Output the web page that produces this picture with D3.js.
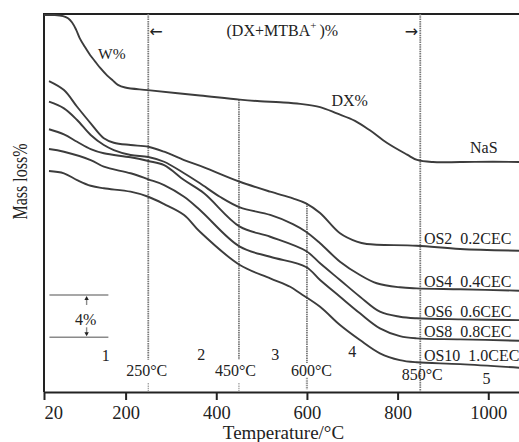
<!DOCTYPE html>
<html>
<head>
<meta charset="utf-8">
<script src="https://cdn.jsdelivr.net/npm/d3@7"></script>
<style>
  html, body { margin: 0; padding: 0; background: #fff; }
  svg { display: block; }
  text { font-family: "Liberation Serif", "Times New Roman", serif; fill: #222; }
</style>
</head>
<body>
<svg id="chart" width="519" height="442"></svg>
<script>
// ---- data: TG curves (temperature °C, relative mass %; curves are offset for display) ----
const tempTicks = [20, 200, 400, 600, 800, 1000];

const nasTemp = [20, 44, 62, 73, 82, 91, 99, 110, 122, 133, 144, 159, 172, 183, 199, 249, 364, 452, 497, 541, 585, 629, 666, 706, 739, 777, 821, 843, 878, 938, 1011, 1068];
const nasMass = [99.9, 99.9, 99.8, 99.6, 99.2, 98.5, 97.7, 96.9, 96.1, 95.5, 94.9, 94.2, 93.7, 93.3, 93.05, 92.8, 92.3, 91.9, 91.75, 91.65, 91.5, 91.2, 90.6, 89.9, 89.0, 87.8, 86.7, 86.2, 86.0, 86.0, 86.03, 86.0];

const os2Temp = [31, 64, 93, 123, 152, 174, 211, 250, 285, 329, 373, 452, 519, 569, 598, 629, 673, 710, 732, 842, 938, 1068];
const os2Mass = [93.66, 92.81, 91.23, 89.66, 88.25, 87.83, 87.61, 87.45, 86.98, 86.19, 85.50, 84.14, 83.20, 82.57, 82.10, 81.18, 79.26, 78.47, 78.25, 78.09, 77.78, 77.62];

const os4Temp = [31, 64, 93, 123, 152, 174, 211, 250, 285, 329, 364, 408, 452, 519, 569, 598, 629, 673, 717, 754, 805, 842, 938, 1068];
const os4Mass = [91.71, 91.08, 89.98, 88.56, 87.61, 87.14, 86.67, 86.48, 86.03, 84.94, 83.99, 82.72, 81.72, 81.0, 80.14, 79.41, 78.32, 76.58, 75.32, 74.54, 74.16, 74.06, 73.97, 73.84];

const os6Temp = [31, 64, 93, 123, 152, 211, 250, 285, 329, 373, 452, 519, 598, 629, 673, 717, 761, 805, 842, 938, 1068];
const os6Mass = [89.10, 88.62, 87.92, 87.23, 86.83, 86.45, 86.10, 85.72, 84.30, 83.05, 79.89, 78.94, 77.59, 76.43, 74.85, 73.27, 71.85, 71.38, 71.23, 71.13, 71.06];

const os8Temp = [31, 64, 123, 152, 211, 250, 285, 329, 364, 452, 519, 598, 629, 673, 717, 761, 805, 842, 938, 1068];
const os8Mass = [87.23, 86.98, 86.19, 85.56, 84.94, 84.37, 83.83, 82.72, 81.47, 78.0, 77.05, 76.08, 74.85, 73.27, 71.70, 70.28, 69.55, 69.33, 69.24, 69.11];

const os10Temp = [31, 64, 93, 123, 152, 211, 250, 285, 329, 364, 452, 519, 563, 585, 629, 673, 717, 761, 805, 842, 938, 1068];
const os10Mass = [85.15, 84.94, 84.30, 83.76, 83.52, 83.20, 82.72, 82.03, 81.0, 79.41, 76.27, 75.01, 74.21, 73.59, 72.32, 70.59, 69.17, 67.92, 67.28, 67.07, 66.90, 66.55];

const seriesNames = ["NaS", "OS2", "OS4", "OS6", "OS8", "OS10"];
const cecLabels = [null, "0.2CEC", "0.4CEC", "0.6CEC", "0.8CEC", "1.0CEC"];

// stage boundaries and stage numbers
const boundaryTemps = [250, 450, 600, 850];
const boundaryLabels = ["250°C", "450°C", "600°C", "850°C"];
const stageNames = ["1", "2", "3", "4", "5"];
const stageTemps = [156, 367, 530, 700, 996];

// ---- layout ----
const svg = d3.select("#chart");
const x = d3.scaleLinear().domain([20, 1070]).range([44, 520]);
const y = d3.scaleLinear().domain([100, 64.26]).range([14, 392]);

const series = seriesNames.map((name, i) => {
  const t = [nasTemp, os2Temp, os4Temp, os6Temp, os8Temp, os10Temp][i];
  const m = [nasMass, os2Mass, os4Mass, os6Mass, os8Mass, os10Mass][i];
  return { name, cec: cecLabels[i], points: t.map((d, j) => ({ t: d, m: m[j] })) };
});

// frame: left and top borders
svg.append("path")
  .attr("d", `M${x.range()[0]},${y.range()[1]}V${y.range()[0]}H${x.range()[1]}`)
  .attr("fill", "none").attr("stroke", "#222").attr("stroke-width", 2);

// x axis
const axis = svg.append("g")
  .attr("transform", `translate(0,${y.range()[1]})`)
  .call(d3.axisBottom(x).tickValues(tempTicks).tickSize(8).tickSizeOuter(0).tickFormat(d3.format("d")));
axis.select(".domain").attr("stroke", "#222").attr("stroke-width", 2);
axis.selectAll(".tick line").attr("stroke", "#222").attr("stroke-width", 2);
axis.selectAll(".tick text")
  .attr("y", 27).attr("dy", 0)
  .style("font-family", '"Liberation Serif", "Times New Roman", serif')
  .style("font-size", "18.5px").attr("fill", "#222")
  .attr("text-anchor", d => d === tempTicks[0] ? "start" : "middle");

// stage boundary guides (dotted verticals)
const guideTop = [100, 91.9, 82.1, 100];
const guideBottom = [67.3, 67.3, 67.0, 64.26];
const guides = svg.append("g").attr("stroke", "#7a7a7a").attr("stroke-dasharray", "1.5,0.8").attr("fill", "none");
boundaryTemps.forEach((t, i) => {
  guides.append("line")
    .attr("x1", x(t)).attr("x2", x(t))
    .attr("y1", y(guideTop[i])).attr("y2", y(guideBottom[i]))
    .attr("stroke-width", 1.8);
});
// short stubs near the axis
[[250, 65.1, 64.26, 1.2], [450, 65.1, 64.26, 1.2], [600, 65.6, 64.5, 2.2]].forEach(([t, a, b, w]) => {
  guides.append("line")
    .attr("x1", x(t)).attr("x2", x(t))
    .attr("y1", y(a)).attr("y2", y(b))
    .attr("stroke-width", w).attr("stroke", "#999");
});

// curves
const line = d3.line().x(d => x(d.t)).y(d => y(d.m)).curve(d3.curveCatmullRom.alpha(0.5));
svg.append("g").selectAll("path").data(series).join("path")
  .attr("d", d => line(d.points))
  .attr("fill", "none").attr("stroke", "#3c3c3c").attr("stroke-width", 1.9)
  .attr("stroke-linejoin", "round");

// curve labels
const labelT = 858;
series.slice(1).forEach(s => {
  const ref = s.points.find(p => p.t === 842);
  svg.append("text")
    .attr("x", x(labelT)).attr("y", y(ref.m) - 1.5)
    .style("font-size", "16px").style("white-space", "pre")
    .text(`${s.name}  ${s.cec}`);
});
svg.append("text").attr("x", 470).attr("y", 153).style("font-size", "16px").text("NaS");
svg.append("text").attr("x", 98).attr("y", 59).style("font-size", "15.5px").text("W%");
svg.append("text").attr("x", 331.5).attr("y", 106).style("font-size", "16px").text("DX%");

// (DX+MTBA+)% range annotation
const rng = svg.append("text").attr("x", 226.5).attr("y", 36).style("font-size", "16px");
rng.append("tspan").text("(DX+MTBA");
rng.append("tspan").attr("dy", -7).style("font-size", "11px").text("+");
rng.append("tspan").attr("dy", 7).attr("dx", 3).text(")%");
svg.append("text").attr("x", x(250) + 1).attr("y", 37).style("font-size", "16px")
  .style("font-family", '"DejaVu Sans", sans-serif').text("←");
svg.append("text").attr("x", x(850) - 2).attr("y", 37).attr("text-anchor", "end").style("font-size", "16px")
  .style("font-family", '"DejaVu Sans", sans-serif').text("→");

// boundary temperature labels
const boundaryDx = [-1.5, -3.5, 4.5, 2];
const boundaryBase = [376, 376, 376, 379.5];
boundaryTemps.forEach((t, i) => {
  svg.append("text").attr("x", x(t) + boundaryDx[i]).attr("y", boundaryBase[i])
    .attr("text-anchor", "middle").style("font-size", "16px").text(boundaryLabels[i]);
});

// stage numbers
const stageBase = [361, 360, 360, 357, 383.5];
stageNames.forEach((s, i) => {
  svg.append("text").attr("x", x(stageTemps[i])).attr("y", stageBase[i])
    .attr("text-anchor", "middle").style("font-size", "16px").text(s);
});

// 4% scale bar
const barTop = 73.43, barBottom = barTop - 4;
const barT0 = 32, barT1 = 162, barArrowT = 114;
const bar = svg.append("g");
[barTop, barBottom].forEach(v => {
  bar.append("line").attr("x1", x(barT0)).attr("x2", x(barT1))
    .attr("y1", y(v)).attr("y2", y(v)).attr("stroke", "#8a8a8a").attr("stroke-width", 1.6);
});
const ax = x(barArrowT);
bar.append("line").attr("x1", ax).attr("x2", ax).attr("y1", y(barTop) + 3).attr("y2", y(barTop) + 10)
  .attr("stroke", "#8a8a8a").attr("stroke-width", 1.4);
bar.append("line").attr("x1", ax).attr("x2", ax).attr("y1", y(barBottom) - 10).attr("y2", y(barBottom) - 3)
  .attr("stroke", "#8a8a8a").attr("stroke-width", 1.4);
bar.append("path").attr("d", `M${ax},${y(barTop) + 1}l-2.2,4h4.4z`).attr("fill", "#222");
bar.append("path").attr("d", `M${ax},${y(barBottom) - 1}l-2.2,-4h4.4z`).attr("fill", "#222");
svg.append("text").attr("x", 75).attr("y", 325).style("font-size", "16px").text("4%");

// axis titles
svg.append("text").attr("x", 283.5).attr("y", 438.5).attr("text-anchor", "middle")
  .style("font-size", "19px").text("Temperature/°C");
svg.append("text")
  .attr("transform", "translate(26.5,181.5) rotate(-90) scale(1,1.3)")
  .attr("text-anchor", "middle").style("font-size", "16px").text("Mass loss%");
</script>
</body>
</html>
